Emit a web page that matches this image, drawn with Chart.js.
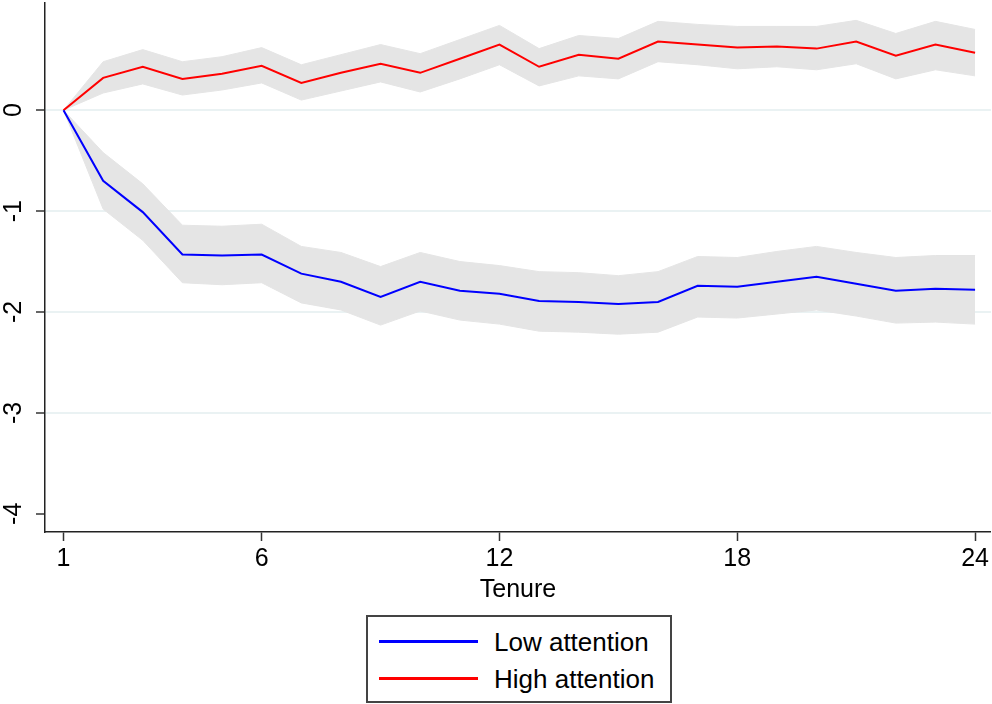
<!DOCTYPE html>
<html>
<head>
<meta charset="utf-8">
<script src="https://cdn.jsdelivr.net/npm/chart.js@4.4.1/dist/chart.umd.min.js"></script>
<style>
    body { margin: 0; background: #fff; }
    #wrap { position: relative; width: 992px; height: 704px; }
    #chartBox { position: absolute; left: 0; top: 0; width: 992px; height: 605px; }
    #legend {
        position: absolute; left: 366px; top: 615px; width: 302px; height: 84px;
        border: 2px solid #444; box-sizing: content-box;
        font-family: "Liberation Sans", Arial, sans-serif; font-size: 26px; color: #000;
    }
    .row { position: absolute; left: 0; height: 30px; }
    .swatch { position: absolute; left: 11px; top: 13px; width: 99px; height: 3px; }
    .label { position: absolute; left: 126px; top: 0; white-space: nowrap; line-height: 30px; }
</style>
</head>
<body>
<div id="wrap">
    <div id="chartBox"><canvas id="chart"></canvas></div>
    <div id="legend">
        <div class="row" style="top: 10px;"><div class="swatch" style="background:#0000ff"></div><div class="label">Low attention</div></div>
        <div class="row" style="top: 47px;"><div class="swatch" style="background:#ff0000"></div><div class="label">High attention</div></div>
    </div>
</div>
<script>
const tenure = [1, 2, 3, 4, 5, 6, 7, 8, 9, 10, 11, 12, 13, 14, 15, 16, 17, 18, 19, 20, 21, 22, 23, 24];

const lowCoef  = [0, -0.70, -1.01, -1.43, -1.44, -1.43, -1.62, -1.70, -1.85, -1.70, -1.79, -1.82, -1.89, -1.90, -1.92, -1.90, -1.74, -1.75, -1.70, -1.65, -1.72, -1.79, -1.77, -1.78];
const lowUpper = [0, -0.42, -0.73, -1.14, -1.15, -1.13, -1.35, -1.41, -1.55, -1.41, -1.50, -1.54, -1.60, -1.61, -1.64, -1.60, -1.45, -1.46, -1.40, -1.35, -1.41, -1.46, -1.44, -1.44];
const lowLower = [0, -0.98, -1.29, -1.71, -1.73, -1.71, -1.91, -1.98, -2.13, -1.99, -2.08, -2.12, -2.19, -2.20, -2.22, -2.20, -2.05, -2.06, -2.02, -1.98, -2.04, -2.11, -2.10, -2.12];

const highCoef  = [0, 0.32, 0.43, 0.31, 0.36, 0.44, 0.27, 0.37, 0.46, 0.37, 0.51, 0.65, 0.43, 0.55, 0.51, 0.68, 0.65, 0.62, 0.63, 0.61, 0.68, 0.54, 0.65, 0.57];
const highUpper = [0, 0.48, 0.60, 0.48, 0.53, 0.62, 0.45, 0.55, 0.65, 0.56, 0.70, 0.84, 0.61, 0.74, 0.71, 0.88, 0.85, 0.83, 0.83, 0.83, 0.89, 0.76, 0.88, 0.80];
const highLower = [0, 0.17, 0.26, 0.15, 0.20, 0.27, 0.10, 0.19, 0.28, 0.18, 0.31, 0.45, 0.24, 0.34, 0.31, 0.48, 0.45, 0.41, 0.43, 0.40, 0.46, 0.31, 0.40, 0.34];

const xTicks = [1, 6, 12, 18, 24];
const yTicks = [-4, -3, -2, -1, 0];

const FONT = "'Liberation Sans', Arial, sans-serif";
const BAND = "#e5e5e5";

function pts(ys) {
    return tenure.map((t, i) => ({ x: t, y: ys[i] }));
}

function band(ys, fill, order) {
    return {
        data: pts(ys), fill: fill, order: order,
        backgroundColor: BAND, borderColor: BAND, borderWidth: 1,
        pointRadius: 0, tension: 0
    };
}

// y tick labels drawn rotated, like the Stata output
const rotatedYLabels = {
    id: "rotatedYLabels",
    afterDraw(chart) {
        const c = chart.ctx;
        const y = chart.scales.y;
        c.save();
        c.fillStyle = "#000";
        c.font = "25px " + FONT;
        c.textAlign = "center";
        c.textBaseline = "middle";
        yTicks.forEach(v => {
            c.save();
            c.translate(14, y.getPixelForValue(v));
            c.rotate(-Math.PI / 2);
            c.fillText(String(v), 0, 0);
            c.restore();
        });
        c.restore();
    }
};

new Chart(document.getElementById("chart"), {
    type: "line",
    data: {
        datasets: [
            { label: "Low attention", data: pts(lowCoef), borderColor: "#0000ff", borderWidth: 2, pointRadius: 0, fill: false, order: 0, tension: 0 },
            { label: "High attention", data: pts(highCoef), borderColor: "#ff0000", borderWidth: 2, pointRadius: 0, fill: false, order: 0, tension: 0 },
            band(lowUpper, "+1", 2),
            band(lowLower, false, 2),
            band(highUpper, "+1", 2),
            band(highLower, false, 2)
        ]
    },
    options: {
        responsive: true,
        maintainAspectRatio: false,
        animation: false,
        layout: { padding: { left: 36, right: 1, top: 3, bottom: 0 } },
        plugins: { legend: { display: false }, tooltip: { enabled: false } },
        scales: {
            x: {
                type: "linear",
                min: 0.533, max: 24.4,
                afterBuildTicks: s => { s.ticks = xTicks.map(v => ({ value: v })); },
                ticks: { color: "#000", font: { family: FONT, size: 25 }, padding: 3, maxRotation: 0, autoSkip: false },
                grid: { drawOnChartArea: false, tickLength: 9, tickColor: "#333", tickWidth: 1.5 },
                border: { color: "#222", width: 1.5 },
                title: { display: true, text: "Tenure", color: "#000", font: { family: FONT, size: 25 }, padding: { top: -2, bottom: 0 } }
            },
            y: {
                type: "linear",
                min: -4.18, max: 1.062,
                afterBuildTicks: s => { s.ticks = yTicks.map(v => ({ value: v })); },
                ticks: { display: false },
                grid: {
                    color: ctx => (ctx.tick && ctx.tick.value === -4) ? "rgba(0,0,0,0)" : "#eaf2f3",
                    lineWidth: 2, tickLength: 9, tickColor: "#333", tickWidth: 1.5
                },
                border: { color: "#222", width: 1.5 }
            }
        }
    },
    plugins: [rotatedYLabels]
});
</script>
</body>
</html>
